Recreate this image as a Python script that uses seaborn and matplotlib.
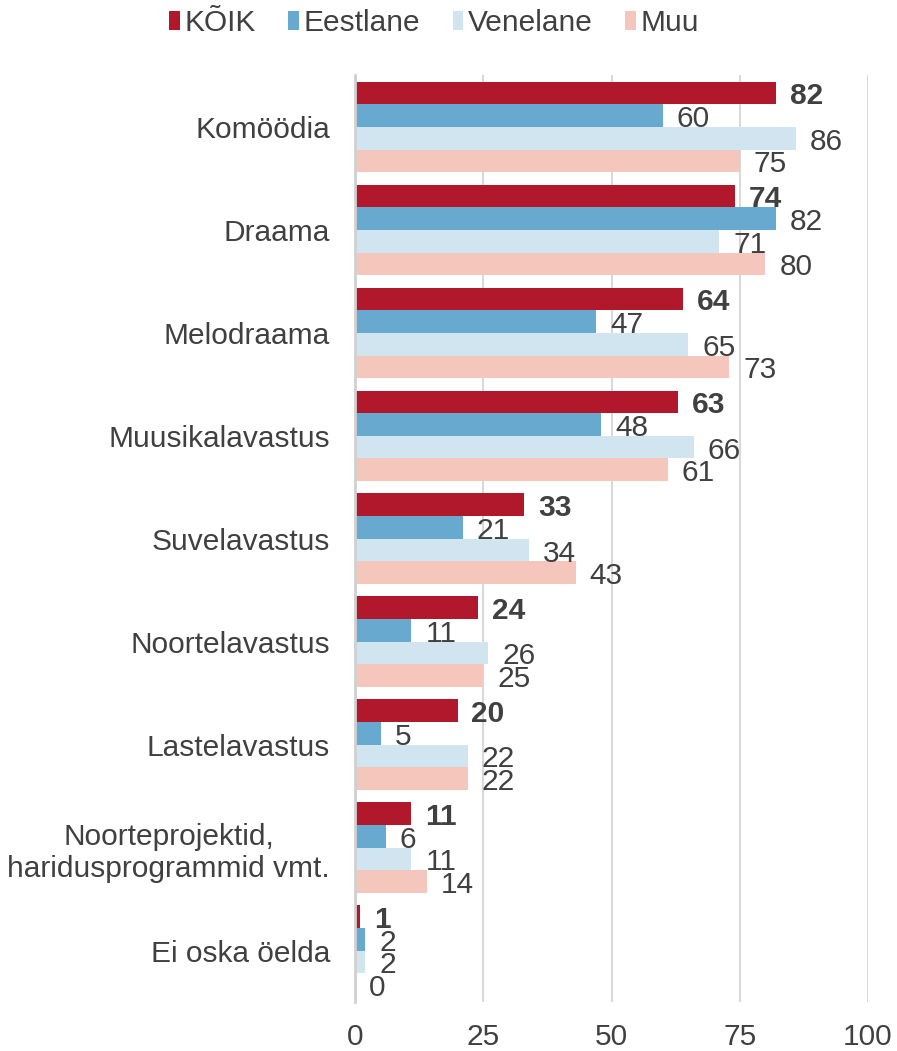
import matplotlib
matplotlib.use("Agg")
import matplotlib.pyplot as plt
import seaborn as sns
import pandas as pd
from matplotlib.patches import Patch

categories = ["Komöödia", "Draama", "Melodraama", "Muusikalavastus", "Suvelavastus",
              "Noortelavastus", "Lastelavastus", "Noorteprojektid,\nharidusprogrammid vmt.",
              "Ei oska öelda"]
series = ["KÕIK", "Eestlane", "Venelane", "Muu"]
koik = [82, 74, 64, 63, 33, 24, 20, 11, 1]
eestlane = [60, 82, 47, 48, 21, 11, 5, 6, 2]
venelane = [86, 71, 65, 66, 34, 26, 22, 11, 2]
muu = [75, 80, 73, 61, 43, 25, 22, 14, 0]
colors = ["#B2182B", "#67A9CF", "#D1E5F0", "#F5C6BB"]
x_ticks = [0, 25, 50, 75, 100]

values = {"KÕIK": koik, "Eestlane": eestlane, "Venelane": venelane, "Muu": muu}
rows = []
for s in series:
    for c, v in zip(categories, values[s]):
        rows.append({"cat": c, "series": s, "val": v})
df = pd.DataFrame(rows)

sns.set_style("white")
plt.rcParams["font.family"] = ["Liberation Sans", "DejaVu Sans"]
TXT = "#404040"
FS = 21.5

fig = plt.figure(figsize=(8.97, 10.51), dpi=100)
ax = fig.add_axes([355 / 897, 1 - 1002 / 1051, (868 - 355) / 897, (1002 - 75.5) / 1051])

sns.barplot(data=df, y="cat", x="val", hue="series", order=categories, hue_order=series,
            palette=colors, orient="h", width=0.88, saturation=1, ax=ax, legend=True,
            errorbar=None, linewidth=0)

for i, cont in enumerate(ax.containers):
    anns = ax.bar_label(cont, labels=[f"{v:g}" for v in values[series[i]]], padding=10,
                        fontsize=FS, color=TXT, fontweight="bold" if i == 0 else "normal",
                        clip_on=False)
    for a in anns:
        a.xyann = (10, -2.5)

ax.set_xlim(0, 100)
ax.set_xticks(x_ticks)
ax.set_xlabel("")
ax.set_ylabel("")
ax.xaxis.grid(True, color="#D9D9D9", linewidth=1.5)
ax.set_axisbelow(True)
for sp in ["top", "right", "bottom"]:
    ax.spines[sp].set_visible(False)
ax.spines["left"].set_color("#D0D0D0")
ax.spines["left"].set_linewidth(2)
ax.tick_params(axis="y", length=0, pad=18, labelsize=FS, labelcolor=TXT)
ax.tick_params(axis="x", length=0, pad=15, labelsize=FS, labelcolor=TXT)
for t in ax.get_yticklabels():
    t.set_horizontalalignment("right")
    t.set_multialignment("center")

ax.get_legend().remove()
handles = [Patch(facecolor=c, edgecolor="none") for c in colors]
fig.legend(handles, series, loc="center", bbox_to_anchor=(434 / 897, 1 - 23 / 1051), ncol=4,
           frameon=False, fontsize=FS, handlelength=0.35, handleheight=0.6,
           handletextpad=0.15, columnspacing=1.1, labelcolor=TXT)

fig.savefig("out.png", dpi=100)
